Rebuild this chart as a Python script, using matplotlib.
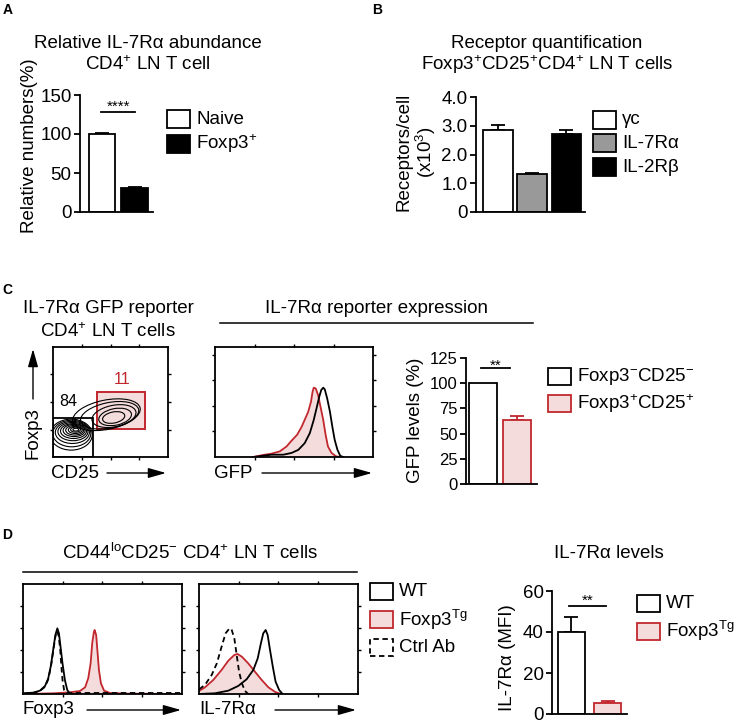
import numpy as np
import matplotlib
matplotlib.use('Agg')
import matplotlib.pyplot as plt
from matplotlib.patches import Rectangle, Ellipse, FancyArrowPatch
from matplotlib.lines import Line2D

plt.rcParams['font.family'] = ['Liberation Sans', 'DejaVu Sans']
plt.rcParams['mathtext.fontset'] = 'custom'
plt.rcParams['mathtext.rm'] = 'Liberation Sans'
plt.rcParams['mathtext.it'] = 'Liberation Sans:italic'
plt.rcParams['mathtext.bf'] = 'Liberation Sans:bold'
plt.rcParams['font.size'] = 13.5

RED = '#c1272d'
PINK = '#f4dcdc'
GRAY = '#999999'

# ---- data ----
# A
a_labels = ['Naive', 'Foxp3$^{+}$']
a_vals = [100, 31]
a_err = [1, 1]
# B
b_labels = ['γc', 'IL-7Rα', 'IL-2Rβ']
b_vals = [2.85, 1.32, 2.70]
b_err = [0.17, 0.05, 0.16]
# C bars
c_labels = ['Foxp3$^{-}$CD25$^{-}$', 'Foxp3$^{+}$CD25$^{+}$']
c_vals = [100, 63]
c_err = [0, 4]
# D bars
d_labels = ['WT', 'Foxp3$^{\\mathrm{Tg}}$']
d_vals = [40, 5.5]
d_err = [7.5, 0.6]

# C contour plot (gates: x0, y0, x1, y1 ; rings: cx, cy, w, h)
neg_gate = [0, 0, 1.41, 1.43]
pos_gate = [1.52, 1.01, 3.19, 2.37]
neg_pct, pos_pct = '84', '11'
neg_rings = [(0.80, 1.00, 0.20, 0.10), (0.79, 1.00, 0.34, 0.18), (0.78, 0.99, 0.48, 0.26),
             (0.76, 0.98, 0.62, 0.35), (0.74, 0.97, 0.76, 0.44), (0.72, 0.95, 0.90, 0.54),
             (0.70, 0.93, 1.04, 0.66), (0.68, 0.90, 1.18, 0.80), (0.66, 0.86, 1.32, 0.96),
             (0.64, 0.82, 1.46, 1.12)]
pos_rings = [(2.11, 1.44, 0.78, 0.40), (2.16, 1.46, 1.15, 0.60), (2.12, 1.49, 1.55, 0.78),
             (1.97, 1.52, 2.05, 0.92), (1.86, 1.54, 2.38, 1.06)]

# C GFP histogram
gfp_pos_x = [0.97, 1.22, 1.43, 1.64, 1.81, 1.94, 2.08, 2.19, 2.27, 2.36, 2.43, 2.47, 2.50,
             2.55, 2.61, 2.67, 2.74, 2.80, 2.86, 2.95, 3.06, 3.16]
gfp_pos_y = [0, 0.08, 0.13, 0.22, 0.41, 0.64, 0.87, 1.17, 1.45, 1.77, 2.16, 2.55, 2.71,
             2.68, 2.42, 1.97, 1.45, 0.87, 0.41, 0.16, 0.03, 0]
gfp_neg_x = [0.97, 1.22, 1.43, 1.73, 1.94, 2.11, 2.27, 2.40, 2.50, 2.57, 2.64, 2.69, 2.74,
             2.78, 2.84, 2.91, 2.97, 3.03, 3.10, 3.17, 3.24]
gfp_neg_y = [0, 0.05, 0.09, 0.09, 0.16, 0.28, 0.54, 0.93, 1.45, 1.90, 2.36, 2.62, 2.71,
             2.64, 2.29, 1.77, 1.19, 0.67, 0.28, 0.05, 0]

# D Foxp3 histogram
fx_wt_x = [0, 0.25, 0.42, 0.55, 0.63, 0.70, 0.76, 0.81, 0.86, 0.90, 0.94, 0.99, 1.05, 1.11, 1.18, 1.30]
fx_wt_y = [0.9, 1.5, 3.3, 7.6, 14.5, 26.6, 41.7, 53.8, 59.8, 55.3, 43.2, 28.1, 13.0, 3.9, 0.6, 0.3]
fx_ctl_x = [0, 0.25, 0.42, 0.55, 0.63, 0.70, 0.76, 0.81, 0.85, 0.89, 0.93, 0.96, 0.99, 1.03, 1.09, 3.96]
fx_ctl_y = [0.6, 1.2, 3.0, 6.9, 13.6, 25.7, 40.2, 52.3, 57.4, 53.5, 41.4, 26.3, 13.0, 3.9, 1.2, 1.2]
fx_tg_x = [0, 0.76, 1.18, 1.43, 1.56, 1.64, 1.70, 1.74, 1.78, 1.80, 1.84, 1.87, 1.91, 1.96,
           2.04, 2.19, 2.61, 3.96]
fx_tg_y = [0.3, 0.9, 1.8, 3.0, 6.3, 14.5, 28.1, 46.2, 55.9, 58.3, 53.8, 40.2, 22.1, 10.0,
           3.3, 1.2, 0.6, 0.3]

# D IL-7Ra histogram
il_ctl_x = [0, 0.15, 0.32, 0.45, 0.57, 0.67, 0.77, 0.82, 0.89, 0.95, 1.01, 1.08, 1.16, 1.24]
il_ctl_y = [4.5, 8.5, 17.5, 28.1, 43.2, 55.3, 59.8, 58.9, 50.8, 35.6, 20.5, 10.0, 3.0, 0.3]
il_tg_x = [0, 0.15, 0.36, 0.57, 0.74, 0.89, 0.97, 1.08, 1.24, 1.41, 1.58, 1.75, 1.92, 2.07]
il_tg_y = [3.0, 6.3, 13.0, 22.1, 30.5, 35.6, 36.6, 34.1, 28.1, 20.5, 13.0, 6.3, 2.1, 0.3]
il_wt_x = [0, 0.40, 0.74, 0.99, 1.20, 1.37, 1.48, 1.56, 1.62, 1.68, 1.73, 1.79, 1.86, 1.93, 2.02, 2.10]
il_wt_y = [0.3, 0.9, 3.3, 7.6, 13.6, 22.1, 32.6, 46.2, 55.3, 58.3, 53.8, 40.2, 25.1, 11.5, 3.9, 0.6]

# ---- figure ----
W, H = 736, 725
fig = plt.figure(figsize=(W / 100, H / 100), dpi=100)


def add_ax(l, t, r, b):
    return fig.add_axes([l / W, 1 - b / H, (r - l) / W, (b - t) / H])


def ftext(x, y, s, **kw):
    kw.setdefault('ha', 'center')
    kw.setdefault('va', 'center')
    fig.text(x / W, 1 - y / H, s, **kw)


def fline(x0, x1, y):
    fig.add_artist(Line2D([x0 / W, x1 / W], [1 - y / H, 1 - y / H], color='k', lw=1.1))


def farrow(x0, y0, x1, y1):
    fig.add_artist(FancyArrowPatch((x0 / W, 1 - y0 / H), (x1 / W, 1 - y1 / H),
                                   transform=fig.transFigure,
                                   arrowstyle='-|>,head_length=0.6,head_width=0.17',
                                   mutation_scale=18, lw=1.0, color='k',
                                   shrinkA=0, shrinkB=0))


def legend_box(x, y, face, edge, label, ls='-'):
    fig.add_artist(Rectangle((x / W, 1 - (y + 8.5) / H), 23 / W, 17 / H,
                             transform=fig.transFigure, facecolor=face,
                             edgecolor=edge, lw=1.3, ls=ls))
    ftext(x + 29, y, label, ha='left')


def bar_panel(ax, vals, errs, faces, edges, width, xlim, ylim, yticks, ylabels, tsize=13.5):
    x = np.arange(len(vals))
    ax.bar(x, vals, width=width, color=faces, edgecolor=edges, linewidth=1.3, zorder=2)
    for xi, v, e, c in zip(x, vals, errs, edges):
        if e > 0:
            ax.errorbar(xi, v, yerr=[[0], [e]], fmt='none', ecolor=c, elinewidth=1.3,
                        capsize=5, capthick=1.3, zorder=1)
    ax.set_xlim(xlim)
    ax.set_ylim(ylim)
    ax.set_yticks(yticks)
    ax.set_yticklabels(ylabels, fontsize=tsize)
    ax.set_xticks([])
    for s in ['top', 'right']:
        ax.spines[s].set_visible(False)
    for s in ['left', 'bottom']:
        ax.spines[s].set_linewidth(1.3)
    ax.tick_params(axis='y', direction='out', length=4, width=1.3, pad=2)
    ax.patch.set_alpha(0)


def sig(ax, x0, x1, y, s, off):
    ax.plot([x0, x1], [y, y], color='k', lw=1.3, clip_on=False)
    ax.annotate(s, xy=((x0 + x1) / 2, y), xytext=(0, off), textcoords='offset points',
                ha='center', va='baseline', fontsize=11, annotation_clip=False)


def hist_axes(ax, ylim, yticks):
    ax.set_xlim(0, 4)
    ax.set_ylim(ylim)
    ax.set_xticks([1, 2, 3])
    ax.set_yticks(yticks)
    ax.tick_params(direction='out', length=2.5, width=1, top=True, right=True,
                   labelbottom=False, labelleft=False)
    for s in ax.spines.values():
        s.set_linewidth(1.3)


# ---- A ----
ftext(8, 9.5, 'A', fontsize=10, fontweight='bold')
ftext(147.5, 43, 'Relative IL-7Rα abundance')
ftext(147.5, 65, 'CD4$^{+}$ LN T cell')
axA = add_ax(80, 95, 153, 212)
bar_panel(axA, a_vals, a_err, ['white', 'black'], ['black', 'black'], 0.82,
          (-0.68, 1.57), (0, 150), [0, 50, 100, 150], ['0', '50', '100', '150'])
sig(axA, -0.03, 1.02, 128, '****', 1.2)
ftext(30, 146, 'Relative numbers(%)', rotation=90)
legend_box(167, 119, 'white', 'black', a_labels[0])
legend_box(167, 144, 'black', 'black', a_labels[1])

# ---- B ----
ftext(377, 9.5, 'B', fontsize=10, fontweight='bold')
ftext(547, 43, 'Receptor quantification')
ftext(547, 65, 'Foxp3$^{+}$CD25$^{+}$CD4$^{+}$ LN T cells')
axB = add_ax(476, 97, 585, 212)
bar_panel(axB, b_vals, b_err, ['white', GRAY, 'black'], ['black'] * 3, 0.87,
          (-0.64, 2.54), (0, 4), [0, 1, 2, 3, 4], ['0', '1.0', '2.0', '3.0', '4.0'])
ftext(417, 152, 'Receptors/cell\n(x10$^{3}$)', rotation=90, linespacing=1.05)
for lab, face, yy in zip(b_labels, ['white', GRAY, 'black'], [120, 143, 167]):
    legend_box(593, yy, face, 'black', lab)

# ---- C ----
ftext(7, 290, 'C', fontsize=10, fontweight='bold')
ftext(108, 309, 'IL-7Rα GFP reporter')
ftext(108, 331.5, 'CD4$^{+}$ LN T cells')
axC1 = add_ax(52.7, 346.7, 168.3, 457.3)
hist_axes(axC1, (0, 4), [1, 2, 3])
axC1.add_patch(Rectangle((pos_gate[0], pos_gate[1]), pos_gate[2] - pos_gate[0],
                         pos_gate[3] - pos_gate[1], facecolor=PINK, edgecolor=RED,
                         lw=1.4, zorder=1))
for cx, cy, w, h in neg_rings:
    axC1.add_patch(Ellipse((cx, cy), w, h, fill=False, edgecolor='k', lw=0.8, zorder=2))
for cx, cy, w, h in pos_rings:
    axC1.add_patch(Ellipse((cx, cy), w, h, angle=12, fill=False, edgecolor='k', lw=0.8, zorder=2))
axC1.add_patch(Rectangle((neg_gate[0], neg_gate[1]), neg_gate[2] - neg_gate[0],
                         neg_gate[3] - neg_gate[1], fill=False, edgecolor='k', lw=1.3, zorder=3))
axC1.text(0.54, 2.01, neg_pct, ha='center', va='center', fontsize=11.5)
axC1.text(2.39, 2.82, pos_pct, ha='center', va='center', fontsize=11.5, color=RED)
ftext(33, 433, 'Foxp3', rotation=90)
farrow(33, 399, 33, 349)
ftext(74.5, 473, 'CD25')
farrow(107, 473, 166, 473)

ftext(376, 309, 'IL-7Rα reporter expression')
fline(220, 533, 322.7)
axC2 = add_ax(215, 347, 373, 457)
hist_axes(axC2, (0, 4.3), [1, 2, 3, 4])
axC2.fill_between(gfp_pos_x, gfp_pos_y, color=PINK, lw=0, zorder=1)
axC2.plot(gfp_pos_x, gfp_pos_y, color=RED, lw=1.3, zorder=2)
axC2.plot(gfp_neg_x, gfp_neg_y, color='k', lw=1.3, zorder=3)
ftext(233, 473, 'GFP')
farrow(262, 473, 372, 473)

axC3 = add_ax(466, 358, 537, 484)
bar_panel(axC3, c_vals, c_err, ['white', PINK], ['black', RED], 0.82,
          (-0.5, 1.59), (0, 125), [0, 25, 50, 75, 100, 125],
          ['0', '25', '50', '75', '100', '125'], tsize=12)
sig(axC3, -0.06, 0.79, 115.4, '**', -1.7)
ftext(415, 420, 'GFP levels (%)', rotation=90)
legend_box(548, 376.5, 'white', 'black', c_labels[0])
legend_box(548, 403.5, PINK, RED, c_labels[1])

# ---- D ----
ftext(7, 535, 'D', fontsize=10, fontweight='bold')
ftext(190, 553, 'CD44$^{\\mathrm{lo}}$CD25$^{-}$ CD4$^{+}$ LN T cells')
fline(23, 357, 571.7)
axD1 = add_ax(23.3, 584, 181.7, 694.3)
hist_axes(axD1, (0, 100), [20, 40, 60, 80])
axD1.fill_between(fx_tg_x, fx_tg_y, color=PINK, lw=0, zorder=1)
axD1.plot(fx_tg_x, fx_tg_y, color=RED, lw=1.3, zorder=2)
axD1.plot(fx_wt_x, fx_wt_y, color='k', lw=1.3, zorder=3)
axD1.plot(fx_ctl_x, fx_ctl_y, color='k', lw=1.3, ls=(0, (3, 2)), zorder=4)
ftext(23, 710, 'Foxp3', ha='left')
farrow(87, 710, 181, 710)

axD2 = add_ax(199, 584, 357.7, 694.3)
hist_axes(axD2, (0, 100), [20, 40, 60, 80])
axD2.fill_between(il_tg_x, il_tg_y, color=PINK, lw=0, zorder=1)
axD2.plot(il_tg_x, il_tg_y, color=RED, lw=1.3, zorder=2)
axD2.plot(il_wt_x, il_wt_y, color='k', lw=1.3, zorder=3)
axD2.plot(il_ctl_x, il_ctl_y, color='k', lw=1.3, ls=(0, (3, 2)), zorder=4)
ftext(199, 710, 'IL-7Rα', ha='left')
farrow(275, 710, 356, 710)

legend_box(370, 591, 'white', 'black', 'WT')
legend_box(370, 619.5, PINK, RED, d_labels[1])
legend_box(370, 647.5, 'white', 'black', 'Ctrl Ab', ls=(0, (3, 2)))

ftext(609, 553, 'IL-7Rα levels')
axD3 = add_ax(552, 591, 627, 714)
bar_panel(axD3, d_vals, d_err, ['white', PINK], ['black', RED], 0.75,
          (-0.54, 1.54), (0, 60), [0, 20, 40, 60], ['0', '20', '40', '60'])
sig(axD3, -0.07, 0.96, 52.5, '**', 1.4)
ftext(508, 658, 'IL-7Rα (MFI)', rotation=90)
legend_box(637, 603.5, 'white', 'black', d_labels[0])
legend_box(637, 631, PINK, RED, d_labels[1])

fig.savefig('out.png', dpi=100)
